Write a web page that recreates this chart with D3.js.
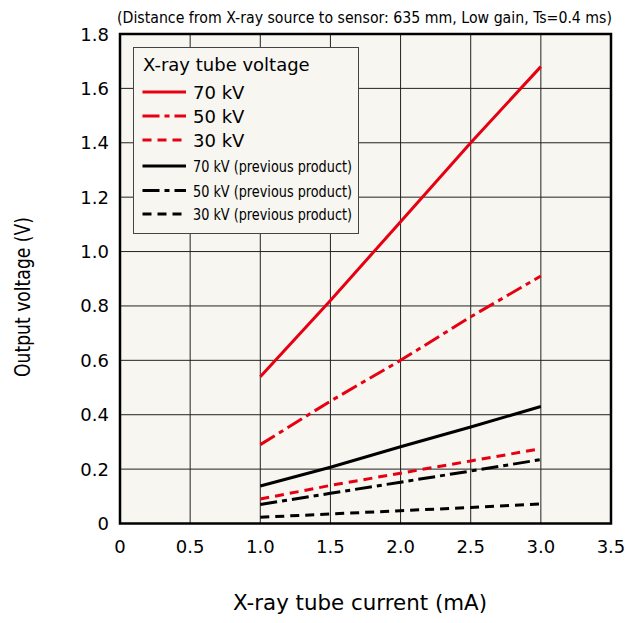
<!DOCTYPE html>
<html>
<head>
<meta charset="utf-8">
<script src="https://cdn.jsdelivr.net/npm/d3@7"></script>
<style>
  body { margin: 0; background: #fff; }
  .cond { font-family: "DejaVu Sans Condensed", "DejaVu Sans", sans-serif; font-stretch: condensed; }
</style>
</head>
<body>
<div class="chart"></div>
<script>
// x-ray tube current (mA)
let currents = [1.0, 1.5, 2.0, 2.5, 3.0];

let v70 = [0.54, 0.82, 1.11, 1.40, 1.68];
let v50 = [0.29, 0.45, 0.60, 0.76, 0.91];
let v30 = [0.09, 0.14, 0.185, 0.23, 0.275];
let v70prev = [0.138, 0.207, 0.282, 0.355, 0.43];
let v50prev = [0.07, 0.111, 0.152, 0.193, 0.235];
let v30prev = [0.023, 0.035, 0.047, 0.059, 0.072];

let seriesNames = ['70 kV', '50 kV', '30 kV',
  '70 kV (previous product)', '50 kV (previous product)', '30 kV (previous product)'];

let xTicks = [0, 0.5, 1.0, 1.5, 2.0, 2.5, 3.0, 3.5];
let xTickLabels = ['0', '0.5', '1.0', '1.5', '2.0', '2.5', '3.0', '3.5'];
let yTicks = [0, 0.2, 0.4, 0.6, 0.8, 1.0, 1.2, 1.4, 1.6, 1.8];
let yTickLabels = ['0', '0.2', '0.4', '0.6', '0.8', '1.0', '1.2', '1.4', '1.6', '1.8'];

let config = {
  width: 627,
  height: 623,
  left: 120,
  right: 611,
  top: 34,
  bottom: 523.5,
  bg: '#f7f6f0',
  red: '#e60012',
  font: '"DejaVu Sans", Verdana, sans-serif'
}

let series = [
  {name: seriesNames[0], values: v70, color: config.red, dash: null},
  {name: seriesNames[1], values: v50, color: config.red, dash: '17,5,5,5'},
  {name: seriesNames[2], values: v30, color: config.red, dash: '9,6'},
  {name: seriesNames[3], values: v70prev, color: '#000', dash: null},
  {name: seriesNames[4], values: v50prev, color: '#000', dash: '17,5,5,5'},
  {name: seriesNames[5], values: v30prev, color: '#000', dash: '9,6'}
];

let svg = d3.select('div.chart').append('svg')
  .attr('width', config.width)
  .attr('height', config.height)
  .attr('font-family', config.font);

let x = d3.scaleLinear().domain([0, 3.5]).range([config.left, config.right]);
let y = d3.scaleLinear().domain([0, 1.8]).range([config.bottom, config.top]);

// plot background
svg.append('rect')
  .attr('x', x(0)).attr('y', y(1.8))
  .attr('width', x(3.5) - x(0)).attr('height', y(0) - y(1.8))
  .attr('fill', config.bg);

// grid
svg.append('g').selectAll('line')
  .data(xTicks.slice(1, -1))
  .enter().append('line')
  .attr('x1', d => x(d)).attr('x2', d => x(d))
  .attr('y1', y(0)).attr('y2', y(1.8))
  .attr('stroke', '#222').attr('stroke-width', 1);

svg.append('g').selectAll('line')
  .data(yTicks.slice(1, -1))
  .enter().append('line')
  .attr('x1', x(0)).attr('x2', x(3.5))
  .attr('y1', d => y(d)).attr('y2', d => y(d))
  .attr('stroke', '#222').attr('stroke-width', 1);

// data lines
let line = d3.line()
  .x((d, i) => x(currents[i]))
  .y(d => y(d));

svg.append('g').selectAll('path')
  .data(series)
  .enter().append('path')
  .attr('d', d => line(d.values))
  .attr('fill', 'none')
  .attr('stroke', d => d.color)
  .attr('stroke-width', 3)
  .attr('stroke-dasharray', d => d.dash);

// frame
svg.append('rect')
  .attr('x', x(0)).attr('y', y(1.8))
  .attr('width', x(3.5) - x(0)).attr('height', y(0) - y(1.8))
  .attr('fill', 'none')
  .attr('stroke', '#000')
  .attr('stroke-width', 2.5);

// tick labels
svg.append('g').selectAll('text')
  .data(xTicks)
  .enter().append('text')
  .attr('x', d => x(d))
  .attr('y', 553)
  .attr('text-anchor', 'middle')
  .attr('font-size', '18px')
  .text((d, i) => xTickLabels[i]);

svg.append('g').selectAll('text')
  .data(yTicks)
  .enter().append('text')
  .attr('x', 109)
  .attr('y', d => y(d) + 6.5)
  .attr('text-anchor', 'end')
  .attr('font-size', '18px')
  .text((d, i) => yTickLabels[i]);

// axis titles
svg.append('text')
  .attr('x', 233)
  .attr('y', 610)
  .attr('font-size', '21px')
  .attr('textLength', 254)
  .attr('lengthAdjust', 'spacingAndGlyphs')
  .text('X-ray tube current (mA)');

svg.append('text')
  .attr('transform', 'translate(30,377) rotate(-90)')
  .attr('font-size', '22px')
  .attr('textLength', 160)
  .attr('lengthAdjust', 'spacingAndGlyphs')
  .text('Output voltage (V)');

svg.append('text')
  .attr('class', 'cond')
  .attr('x', 117)
  .attr('y', 23)
  .attr('font-size', '15.5px')
  .attr('textLength', 495)
  .attr('lengthAdjust', 'spacingAndGlyphs')
  .text('(Distance from X-ray source to sensor: 635 mm, Low gain, Ts=0.4 ms)');

// legend
let legend = svg.append('g');
legend.append('rect')
  .attr('x', 133.5).attr('y', 47.5)
  .attr('width', 225).attr('height', 186)
  .attr('fill', config.bg)
  .attr('stroke', '#444')
  .attr('stroke-width', 1);

legend.append('text')
  .attr('x', 143).attr('y', 71)
  .attr('font-size', '18px')
  .text('X-ray tube voltage');

let rowY = [92, 116, 140, 166, 190.5, 214];

let rows = legend.selectAll('.row')
  .data(series)
  .enter().append('g');

rows.append('line')
  .attr('x1', 142.5).attr('x2', 186)
  .attr('y1', (d, i) => rowY[i]).attr('y2', (d, i) => rowY[i])
  .attr('stroke', d => d.color)
  .attr('stroke-width', 3)
  .attr('stroke-dasharray', d => d.dash);

rows.append('text')
  .attr('class', (d, i) => i < 3 ? null : 'cond')
  .attr('x', 193)
  .attr('y', (d, i) => rowY[i] + (i < 3 ? 7 : 6))
  .attr('font-size', (d, i) => i < 3 ? '18px' : '15.5px')
  .attr('textLength', (d, i) => i < 3 ? null : 159)
  .attr('lengthAdjust', 'spacingAndGlyphs')
  .text(d => d.name);
</script>
</body>
</html>
